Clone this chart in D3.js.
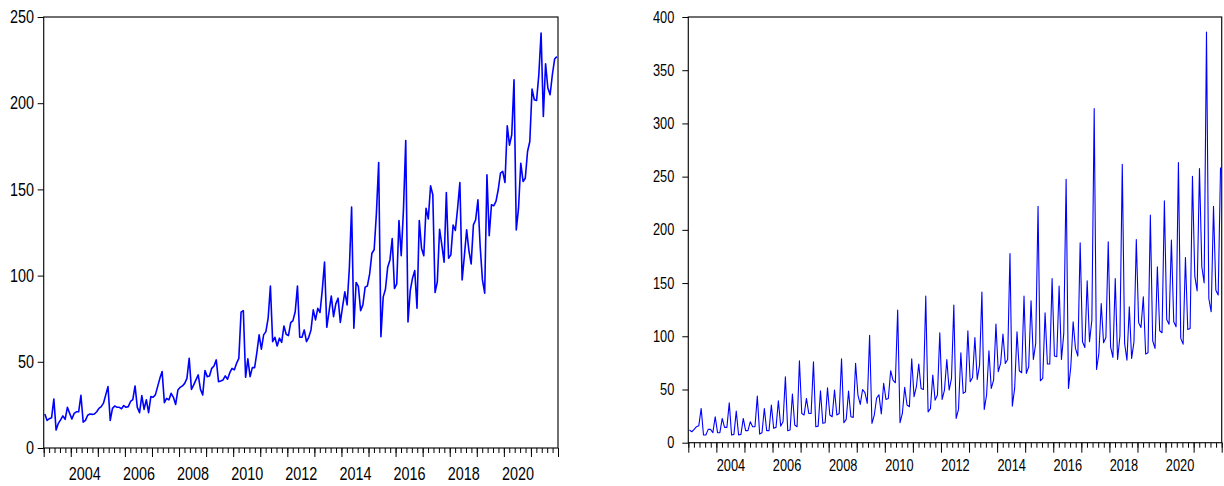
<!DOCTYPE html>
<html>
<head>
<meta charset="utf-8">
<script src="https://cdn.jsdelivr.net/npm/d3@7"></script>
<style>
  body { margin: 0; background: #fff; }
  svg text { font-family: "Liberation Sans Narrow", "Arial Narrow", "Liberation Sans", Arial, sans-serif; fill: #000; }
  .domain { display: none; }
</style>
</head>
<body>
<svg id="chart" width="1224" height="486"></svg>
<script>
// monthly series, Jan 2003 .. Dec 2021
var startYear = 2003;
var endYear = 2022;
var labelYears = [2004, 2006, 2008, 2010, 2012, 2014, 2016, 2018, 2020];
var leftTicks = [0, 50, 100, 150, 200, 250];
var rightTicks = [0, 50, 100, 150, 200, 250, 300, 350, 400];

var leftValues = [
  19.7, 16, 17, 17.6, 28.4, 10.4, 14.3, 16.3, 18.6, 16.6, 23.6, 20.1,
  16.8, 20.1, 21, 21, 30.6, 15, 16, 19, 19.7, 19.5, 19.7, 21,
  23, 24, 26, 30.8, 35.6, 16, 23, 24.4, 23.6, 23.6, 22.8, 24.6,
  23.6, 24, 27, 28, 36, 23.6, 20.5, 30.4, 22.4, 28, 20.5, 29.8,
  29.4, 30.8, 35.6, 40.4, 44.3, 26.3, 28.8, 27.9, 31.7, 29.4, 25.3, 33.7,
  35.2, 36, 37.5, 40.4, 52, 34, 36.6, 39.5, 42.4, 34, 30.8, 44.9,
  41.4, 41.8, 46.2, 47.6, 51.1, 38.5, 38.9, 39.5, 41.8, 39.9, 43.7, 46.2,
  45.3, 49.1, 52, 78.8, 79.7, 41, 51.7, 41.4, 46.6, 46.6, 55.3, 65.6,
  57.3, 65.6, 67.5, 75.3, 94, 61.7, 64.2, 59.2, 63.7, 61.3, 70.8, 66,
  65.2, 72.7, 73.9, 79, 94, 64.2, 64.2, 68.5, 61.7, 64.2, 68.5, 80.1,
  74.3, 81, 78.6, 91.7, 107.8, 70, 79.1, 88.2, 76.2, 83.6, 86.9, 72.8,
  82, 90.6, 83, 104.3, 139.7, 69.5, 96, 93.7, 79.7, 83, 93.3, 94,
  101, 113, 115, 136.2, 165.6, 64.6, 87.5, 92.1, 104.9, 109.1, 121.5, 92.5,
  95.2, 132, 111.5, 138.5, 178.4, 73.1, 91.3, 98.5, 102.9, 81.1, 132, 115.9,
  111.5, 139.1, 132.9, 152.1, 146.9, 90.2, 96.4, 126.9, 117.8, 107.8, 148.2, 110.1,
  112, 129.3, 126.2, 139.1, 154, 97.5, 111.5, 126.5, 114.5, 106.8, 129.4, 132.4,
  144, 116.9, 97.5, 89.8, 158.5, 123.1, 141.1, 140.5, 143, 149.8, 159.4, 160.4,
  154, 186.9, 175.7, 181.7, 213.6, 126.5, 139.1, 165.2, 154.6, 156.5, 172, 177.8,
  208.2, 202, 201.6, 216.5, 240.7, 192.3, 222.9, 208.8, 204.9, 216.5, 225.6, 227
];

var rightValues = [
  11.9, 10.3, 12.5, 15, 16, 32.2, 7.2, 7.2, 12.5, 12.5, 9.4, 24.4,
  9.4, 9.4, 22.8, 14.4, 14.4, 37.6, 7.2, 7.8, 29.7, 7.2, 7.8, 22.8,
  11.3, 11.3, 19.7, 15, 15, 43.8, 8.1, 9.4, 32.2, 11.3, 11.3, 35.4,
  13.5, 14.4, 39.4, 15.6, 19.7, 62, 11.3, 11.9, 45.7, 16.6, 15, 77,
  27.5, 26, 41.6, 27.5, 27.5, 76, 15, 15.6, 48.8, 18.2, 18.8, 51.6,
  26, 24.4, 49.5, 26, 27.5, 78.9, 18.8, 21.9, 48.5, 24.4, 23.8, 74.5,
  45, 36, 50, 47, 37, 101, 18.2, 26, 42, 45, 27, 55.7,
  40.7, 41.6, 67.6, 58.8, 56.3, 124.6, 18.8, 27.5, 52, 35.4, 33.8, 78.9,
  43.2, 52.6, 73.9, 51, 50, 137.7, 29, 32, 63.5, 40, 44.8, 103.3,
  40.7, 49.5, 78.2, 49.5, 60.4, 129.3, 22.8, 31.3, 84.5, 46.3, 47.9, 105.2,
  57.3, 61.3, 98.9, 59.5, 72.9, 141.5, 31.3, 44.8, 86.4, 51, 58.8, 111.4,
  66.7, 74.5, 102, 74.5, 78.2, 177.8, 34.4, 51, 104.2, 67.6, 65.7, 137.7,
  65.1, 71.4, 133.3, 78.2, 93.3, 222.2, 58.2, 60.4, 122, 73.9, 73.9, 154.3,
  81.4, 80.8, 147.1, 78.2, 102.7, 247.6, 51, 71.4, 113.6, 88.6, 81.4, 187.8,
  94.8, 89.5, 152.1, 94.8, 115.2, 313.9, 68.9, 83.9, 130.8, 93.9, 98.9, 188.7,
  90.1, 80.1, 154.3, 78.2, 100.2, 261.7, 93.3, 77.6, 127.7, 79.2, 94.8, 190.9,
  112.7, 108.3, 137.1, 83.3, 84.5, 213.8, 95.8, 88.6, 165.3, 105.2, 103.3, 227.2,
  115.8, 111.4, 190.3, 113.6, 108.9, 263.2, 98, 92.6, 174, 106.4, 107.4, 250.4,
  156.5, 142.7, 257.6, 165.3, 150.2, 385.9, 135.5, 123, 222.2, 143.3, 138.7, 258.5
];

// the original labels use a narrow face; squeeze the regular one
var squeeze = 0.8;

var svg = d3.select("#chart");

function drawPanel(p) {
  var g = svg.append("g")
    .attr("transform", "translate(" + p.left + "," + p.top + ")");

  var x = d3.scaleLinear().domain([startYear, endYear]).range([0, p.width]);
  var y = d3.scaleLinear().domain([0, p.ticks[p.ticks.length - 1]]).range([p.height, 0]);

  // the series line
  var line = d3.line()
    .x(function(d, i) { return x(startYear + (i + 0.5) / 12); })
    .y(function(d) { return y(d); });

  g.append("path")
    .datum(p.values)
    .attr("fill", "none")
    .attr("stroke", "#0000ff")
    .attr("stroke-width", p.lineWidth)
    .attr("stroke-linejoin", "round")
    .attr("d", line);

  // frame
  g.append("rect")
    .attr("x", 0).attr("y", 0)
    .attr("width", p.width).attr("height", p.height)
    .attr("fill", "none")
    .attr("stroke", "#111")
    .attr("stroke-width", 1.2);

  // y axis
  var yAxis = g.append("g")
    .call(d3.axisLeft(y).tickValues(p.ticks).tickSize(6).tickPadding(p.yPad));
  yAxis.selectAll("text")
    .style("font-size", p.fontSize + "px")
    .attr("transform", "scale(" + squeeze + ",1)");

  // x ticks: major each year, minor every fifth of a year
  var minor = d3.range(0, (endYear - startYear) * 5 + 1).map(function(k) { return startYear + k / 5; });
  g.append("g")
    .attr("transform", "translate(0," + p.height + ")")
    .call(d3.axisBottom(x).tickValues(minor).tickSize(p.minorLen).tickFormat(""));
  g.append("g")
    .attr("transform", "translate(0," + p.height + ")")
    .call(d3.axisBottom(x).tickValues(d3.range(startYear, endYear + 1)).tickSize(p.majorLen).tickFormat(""));

  // year labels centred on the year
  var xLabels = g.append("g")
    .attr("transform", "translate(0," + p.height + ")")
    .call(d3.axisBottom(x)
      .tickValues(labelYears.map(function(v) { return v + 0.5; }))
      .tickSize(0)
      .tickPadding(p.xPad)
      .tickFormat(function(d) { return Math.floor(d); }));
  xLabels.selectAll("text")
    .style("font-size", p.fontSize + "px")
    .attr("transform", "scale(" + squeeze + ",1)");
}

drawPanel({
  left: 43.7, top: 17, width: 514.3, height: 431,
  values: leftValues, ticks: leftTicks,
  fontSize: 18, yPad: 6, xPad: 19, majorLen: 9, minorLen: 5, lineWidth: 1.6
});

drawPanel({
  left: 688.3, top: 17, width: 533.4, height: 425.7,
  values: rightValues, ticks: rightTicks,
  fontSize: 16, yPad: 11.5, xPad: 17, majorLen: 10, minorLen: 5, lineWidth: 1.1
});
</script>
</body>
</html>
